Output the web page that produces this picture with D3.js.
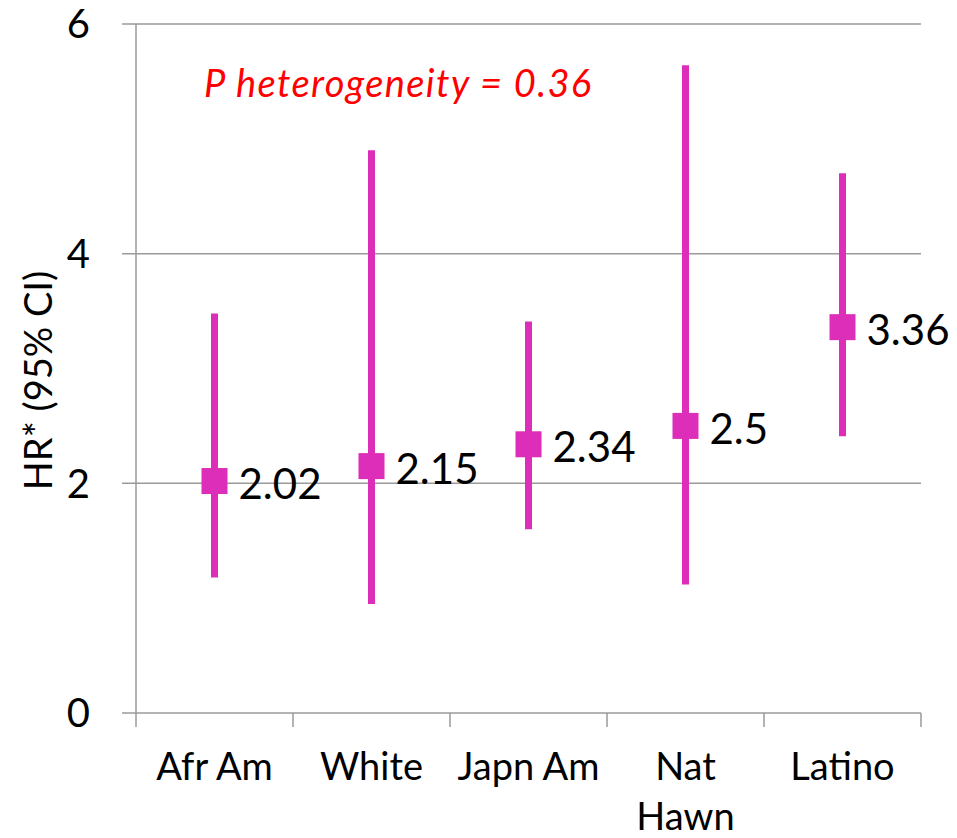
<!DOCTYPE html>
<html lang="en">
<head>
    <meta charset="UTF-8">
    <title>HR by ethnicity</title>
    <script src="https://d3js.org/d3.v7.min.js"></script>
    <style>
        body { margin: 0; background: #fff; }
        text { font-family: Lato, "Open Sans", sans-serif; }
    </style>
</head>
<body>
    <svg class="chart" width="957" height="838"></svg>
    <script>
        // data
        const groups = ['Afr Am', 'White', 'Japn Am', 'Nat Hawn', 'Latino'];
        const hr = [2.02, 2.15, 2.34, 2.5, 3.36];
        const lower = [1.18, 0.95, 1.60, 1.12, 2.41];
        const upper = [3.48, 4.90, 3.41, 5.64, 4.70];
        const yTicks = [0, 2, 4, 6];
        const note = 'P heterogeneity = 0.36';

        const svg = d3.select('.chart');
        const margin = { top: 24, right: 36, bottom: 125, left: 136 };
        const width = +svg.attr('width');
        const height = +svg.attr('height');
        const innerW = width - margin.left - margin.right;
        const innerH = height - margin.top - margin.bottom;
        const pink = '#dd2eba';
        const grid = '#9a9a9a';

        const g = svg.append('g').attr('transform', `translate(${margin.left},${margin.top})`);

        const x = d3.scaleBand().domain(groups).range([0, innerW]);
        const y = d3.scaleLinear().domain([0, 6]).range([innerH, 0]);

        // gridlines + y ticks
        g.selectAll('.grid').data(yTicks.filter(d => d > 0)).join('line')
            .attr('x1', -14).attr('x2', innerW)
            .attr('y1', d => y(d)).attr('y2', d => y(d))
            .attr('stroke', grid).attr('stroke-width', 1.5);

        g.selectAll('.ytick').data(yTicks).join('text')
            .attr('x', -46).attr('y', d => y(d))
            .attr('dy', '0.36em')
            .attr('text-anchor', 'end')
            .attr('font-size', 40)
            .text(d => d);

        // axes
        g.append('line').attr('x1', 0).attr('x2', 0).attr('y1', 0).attr('y2', innerH)
            .attr('stroke', grid).attr('stroke-width', 1.5);
        g.append('line').attr('x1', -14).attr('x2', innerW).attr('y1', innerH).attr('y2', innerH)
            .attr('stroke', grid).attr('stroke-width', 1.5);
        const bounds = groups.map(d => x(d)).concat([innerW]);
        g.selectAll('.xtick').data(bounds).join('line')
            .attr('x1', d => d).attr('x2', d => d)
            .attr('y1', innerH).attr('y2', innerH + 14)
            .attr('stroke', grid).attr('stroke-width', 1.5);

        // category labels (wrap two-word labels that are too wide)
        groups.forEach(name => {
            const lines = name === 'Nat Hawn' ? ['Nat', 'Hawn'] : [name];
            const t = g.append('text')
                .attr('x', x(name) + x.bandwidth() / 2)
                .attr('y', innerH + 67)
                .attr('text-anchor', 'middle')
                .attr('font-size', 38);
            lines.forEach((l, i) => t.append('tspan')
                .attr('x', x(name) + x.bandwidth() / 2)
                .attr('dy', i === 0 ? 0 : 50)
                .text(l));
        });

        // y axis title
        svg.append('text')
            .attr('transform', `translate(52, ${margin.top + innerH / 2 + 12}) rotate(-90)`)
            .attr('text-anchor', 'middle')
            .attr('font-size', 38)
            .text('HR* (95% CI)');

        // error bars
        const cx = i => x(groups[i]) + x.bandwidth() / 2;
        g.selectAll('.ci').data(hr).join('line')
            .attr('x1', (d, i) => cx(i)).attr('x2', (d, i) => cx(i))
            .attr('y1', (d, i) => y(lower[i])).attr('y2', (d, i) => y(upper[i]))
            .attr('stroke', pink).attr('stroke-width', 7);

        const sz = 26;
        g.selectAll('.pt').data(hr).join('rect')
            .attr('x', (d, i) => cx(i) - sz / 2)
            .attr('y', d => y(d) - sz / 2)
            .attr('width', sz).attr('height', sz)
            .attr('fill', pink);

        g.selectAll('.lbl').data(hr).join('text')
            .attr('x', (d, i) => cx(i) + 24)
            .attr('y', d => y(d) + 3)
            .attr('dy', '0.36em')
            .attr('font-size', 42)
            .text(d => d);

        // heterogeneity note
        g.append('text')
            .attr('x', 68).attr('y', 73)
            .attr('fill', '#ff0000')
            .attr('font-style', 'italic')
            .attr('font-size', 38)
            .attr('letter-spacing', 1.4)
            .text(note);
    </script>
</body>
</html>
